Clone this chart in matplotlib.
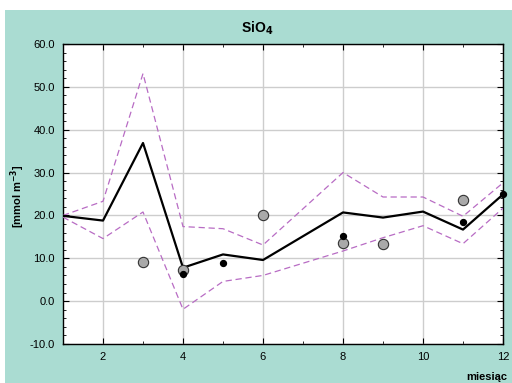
import numpy as np
import matplotlib.pyplot as plt
from matplotlib.patches import Rectangle
from matplotlib.ticker import MultipleLocator, FuncFormatter

plt.rcParams['font.family'] = ['Liberation Sans', 'DejaVu Sans']

# monthly mean and confidence band
months = [1, 2, 3, 4, 5, 6, 8, 9, 10, 11, 12]
mean = [19.9, 18.8, 36.9, 7.8, 10.9, 9.6, 20.7, 19.5, 20.9, 16.7, 24.9]
upper = [20.0, 23.3, 53.1, 17.4, 16.9, 13.1, 30.0, 24.3, 24.3, 19.8, 27.6]
lower = [19.6, 14.6, 20.8, -1.9, 4.6, 6.0, 11.7, 14.8, 17.6, 13.4, 21.7]

# observations
obs_gray_x = [3, 4, 6, 8, 9, 11]
obs_gray_y = [9.2, 7.3, 20.0, 13.6, 13.3, 23.7]
obs_black_x = [4, 5, 8, 11, 12]
obs_black_y = [6.3, 8.8, 15.2, 18.5, 25.0]

teal = '#AADCD2'

fig = plt.figure(figsize=(5.12, 3.83), dpi=100)
fig.patch.set_facecolor('white')
fig.patches.append(Rectangle((5 / 512, 0), 507 / 512, 373 / 383,
                             transform=fig.transFigure, facecolor=teal,
                             edgecolor='none', zorder=-10))

ax = fig.add_axes([63 / 512, 39 / 383, 440 / 512, 300 / 383])
ax.set_facecolor('white')

ax.plot(months, upper, color='#B86CC4', lw=0.9, dashes=(5, 3), zorder=3)
ax.plot(months, lower, color='#B86CC4', lw=0.9, dashes=(5, 3), zorder=3)
ax.plot(months, mean, color='black', lw=1.6, zorder=4)
ax.scatter(obs_gray_x, obs_gray_y, s=55, facecolor='#A9A9A9',
           edgecolor='#333333', linewidths=0.8, zorder=5, clip_on=False)
ax.scatter(obs_black_x, obs_black_y, s=18, facecolor='black',
           edgecolor='black', zorder=6, clip_on=False)

ax.set_xlim(1, 12)
ax.set_ylim(-10, 60)
ax.xaxis.set_major_locator(MultipleLocator(2))
ax.xaxis.set_minor_locator(MultipleLocator(1))
ax.yaxis.set_major_locator(MultipleLocator(10))
ax.yaxis.set_minor_locator(MultipleLocator(2))
ax.yaxis.set_major_formatter(FuncFormatter(lambda v, p: f'{v:.1f}'))
ax.grid(True, which='major', color='#CDCDCD', lw=1.0)
ax.set_axisbelow(True)

ax.tick_params(which='both', direction='in', top=True, right=True,
               labelsize=8, colors='black')
ax.tick_params(which='major', length=4, width=0.8, pad=6)
ax.tick_params(which='minor', length=2.5, width=0.6)
for s in ax.spines.values():
    s.set_color('black')
    s.set_linewidth(1.0)

fig.text(0.502, 1 - 28 / 383, 'SiO$_\\mathbf{4}$', ha='center', va='center',
         fontsize=10, fontweight='bold')
fig.text(18 / 512, 1 - 196 / 383, '[mmol m$^{\\mathbf{-3}}$]', rotation=90,
         ha='center', va='center', fontsize=8, fontweight='bold')
fig.text(507 / 512, 1 - 377 / 383, 'miesiąc', ha='right', va='center',
         fontsize=8, fontweight='bold')

fig.savefig('out.png', dpi=100, facecolor=fig.get_facecolor())
